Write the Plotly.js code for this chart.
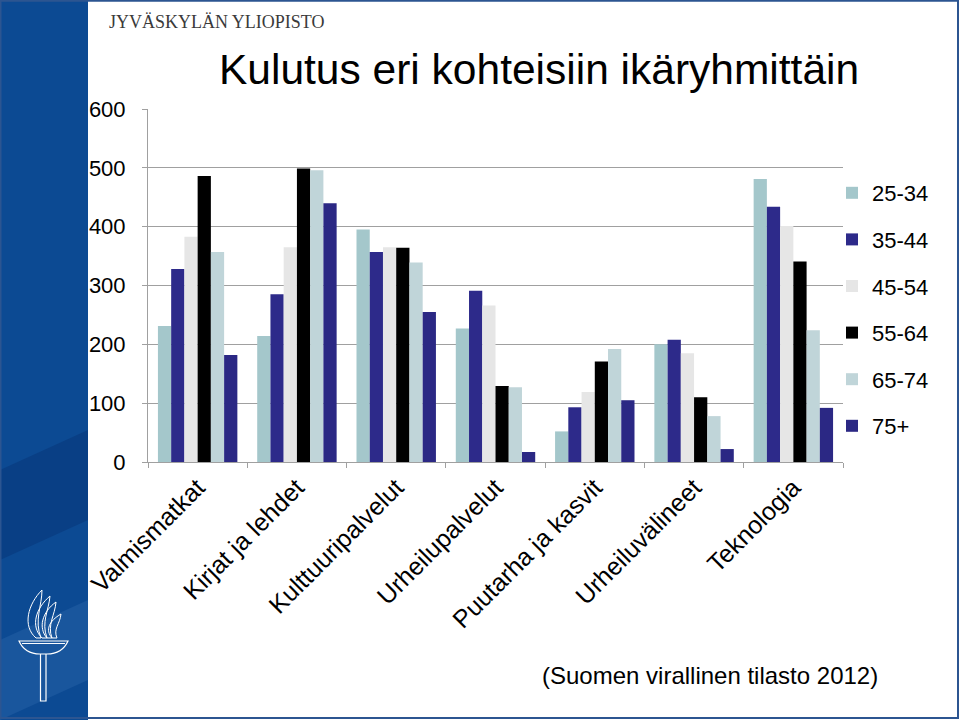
<!DOCTYPE html>
<html>
<head>
<meta charset="utf-8">
<script src="https://cdn.plot.ly/plotly-3.0.1.min.js"></script>
<style>html,body{margin:0;padding:0;background:#fff}#chart{width:960px;height:720px}</style>
</head>
<body>
<div id="chart"></div>
<script>
const categories = ["Valmismatkat","Kirjat ja lehdet","Kulttuuripalvelut","Urheilupalvelut","Puutarha ja kasvit","Urheiluvälineet","Teknologia"];
const seriesNames = ["25-34","35-44","45-54","55-64","65-74","75+"];
const v25_34 = [231, 214, 395, 227, 52, 200, 481];
const v35_44 = [328, 285, 357, 291, 93, 208, 434];
const v45_54 = [383, 365, 365, 266, 119, 185, 401];
const v55_64 = [486, 499, 364, 129, 171, 110, 341];
const v65_74 = [357, 496, 339, 127, 192, 78, 224];
const v75 = [182, 440, 255, 17, 105, 22, 92];
const yTicks = [0, 100, 200, 300, 400, 500, 600];

const seriesValues = [v25_34, v35_44, v45_54, v55_64, v65_74, v75];
const colors = ["#a4c7cb", "#2d2a8a", "#e6e6e6", "#000000", "#c0d5d9", "#2b2884"];

const FONT = "Liberation Sans, Arial, sans-serif";

// pixel -> paper helpers for decoration shapes
const L = 148, R = 117, T = 109, B = 258, W = 960, H = 720;
const pw = W - L - R, ph = H - T - B;
const px = x => (x - L) / pw;
const py = y => (H - B - y) / ph;
function path(cmds) {
  return cmds.map(c => {
    if (typeof c === 'string') return c;
    const out = [];
    for (let i = 0; i < c.length; i += 2) out.push(px(c[i]).toFixed(5) + ',' + py(c[i+1]).toFixed(5));
    return out.join(' ');
  }).join(' ');
}

const traces = seriesNames.map((name, i) => ({
  type: 'bar',
  name: name,
  x: categories,
  y: seriesValues[i],
  marker: {color: colors[i], line: {width: 0}},
  legendgroup: 'g' + i,
  hoverinfo: 'x+y+name'
}));

const shapes = [
  // sidebar
  {type: 'rect', xref: 'paper', yref: 'paper', x0: px(0), x1: px(88), y0: py(0), y1: py(720),
   fillcolor: '#0c4a93', line: {width: 0}, layer: 'below'},
  {type: 'path', xref: 'paper', yref: 'paper', layer: 'below', fillcolor: 'rgba(0,30,90,0.25)', line: {width: 0},
   path: path(['M', [0, 470], 'L', [88, 430], 'L', [88, 520], 'L', [0, 560], 'Z'])},
  {type: 'path', xref: 'paper', yref: 'paper', layer: 'below', fillcolor: 'rgba(120,170,230,0.12)', line: {width: 0},
   path: path(['M', [0, 640], 'L', [88, 600], 'L', [88, 680], 'L', [0, 720], 'Z'])},
  // frame
  {type: 'rect', xref: 'paper', yref: 'paper', x0: px(0.5), x1: px(958), y0: py(0.8), y1: py(718),
   line: {color: '#2c5591', width: 2}, fillcolor: 'rgba(0,0,0,0)'},
  // torch bowl
  {type: 'path', xref: 'paper', yref: 'paper', line: {color: '#ffffff', width: 1.2}, fillcolor: 'rgba(0,0,0,0)',
   path: path(['M', [19, 641], 'L', [68, 641], 'C', [64, 650, 56, 654, 47, 654], 'L', [40, 654], 'C', [31, 654, 23, 650, 19, 641], 'Z'])},
  {type: 'path', xref: 'paper', yref: 'paper', line: {color: '#ffffff', width: 1}, fillcolor: 'rgba(0,0,0,0)',
   path: path(['M', [22, 643.5], 'L', [65, 643.5]])},
  // stem
  {type: 'path', xref: 'paper', yref: 'paper', line: {color: '#ffffff', width: 1.2}, fillcolor: 'rgba(0,0,0,0)',
   path: path(['M', [40.5, 654], 'L', [40.5, 701], 'L', [46, 701], 'L', [46, 654]])},
  // flames
  {type: 'path', xref: 'paper', yref: 'paper', line: {color: '#ffffff', width: 1}, fillcolor: 'rgba(0,0,0,0)',
   path: path(['M', [36, 638], 'C', [22, 626, 28, 604, 42, 590], 'C', [42, 606, 34, 620, 41, 638], 'Z'])},
  {type: 'path', xref: 'paper', yref: 'paper', line: {color: '#ffffff', width: 1}, fillcolor: 'rgba(0,0,0,0)',
   path: path(['M', [42, 638], 'C', [30, 626, 36, 608, 50, 596], 'C', [49, 610, 41, 622, 47, 638], 'Z'])},
  {type: 'path', xref: 'paper', yref: 'paper', line: {color: '#ffffff', width: 1}, fillcolor: 'rgba(0,0,0,0)',
   path: path(['M', [47, 638], 'C', [38, 628, 42, 612, 56, 602], 'C', [55, 615, 47, 625, 52, 638], 'Z'])},
  {type: 'path', xref: 'paper', yref: 'paper', line: {color: '#ffffff', width: 1}, fillcolor: 'rgba(0,0,0,0)',
   path: path(['M', [52, 638], 'C', [45, 630, 49, 621, 61, 614], 'C', [60, 624, 53, 629, 57, 638], 'Z'])}
];

const annotations = [
  {xref: 'paper', yref: 'paper', x: px(107), y: py(22), xanchor: 'left', yanchor: 'middle', showarrow: false,
   text: 'JYVÄSKYLÄN YLIOPISTO', font: {family: 'Liberation Serif, DejaVu Serif, serif', size: 18, color: '#3a3a3a'}},
  {xref: 'paper', yref: 'paper', x: px(539), y: py(70), xanchor: 'center', yanchor: 'middle', showarrow: false,
   text: 'Kulutus eri kohteisiin ikäryhmittäin', font: {family: FONT, size: 42.5, color: '#000000'}},
  {xref: 'paper', yref: 'paper', x: px(710), y: py(675), xanchor: 'center', yanchor: 'middle', showarrow: false,
   text: '(Suomen virallinen tilasto 2012)', font: {family: FONT, size: 24, color: '#000000'}}
];

const layout = {
  width: W, height: H,
  margin: {l: L, r: R, t: T, b: B, pad: 0},
  paper_bgcolor: '#ffffff', plot_bgcolor: '#ffffff',
  font: {family: FONT, size: 22, color: '#000000'},
  barmode: 'group', bargap: 0.2, bargroupgap: 0,
  showlegend: true,
  legend: {x: px(832), y: py(172), xanchor: 'left', yanchor: 'top', bgcolor: 'rgba(0,0,0,0)',
           font: {family: FONT, size: 22, color: '#000000'}, traceorder: 'grouped', tracegroupgap: 15,
           itemclick: false},
  xaxis: {type: 'category', showgrid: false, showline: true, linecolor: '#a0a0a0', linewidth: 1,
          ticks: 'outside', ticklen: 5, tickcolor: '#a0a0a0', tickson: 'boundaries',
          tickangle: -45, tickfont: {family: FONT, size: 25, color: '#000000'}, automargin: false,
          fixedrange: true},
  yaxis: {range: [0, 600], tickvals: yTicks, ticktext: yTicks.map(String), showgrid: true, gridcolor: '#a0a0a0', gridwidth: 1,
          showline: true, linecolor: '#a0a0a0', linewidth: 1, ticks: 'outside', ticklen: 5, tickcolor: '#a0a0a0',
          zeroline: false, tickfont: {family: FONT, size: 22, color: '#000000'}, ticklabelstandoff: 12,
          automargin: false, fixedrange: true},
  shapes: shapes,
  annotations: annotations
};

Plotly.newPlot('chart', traces, layout, {displayModeBar: false, staticPlot: true});
</script>
</body>
</html>
